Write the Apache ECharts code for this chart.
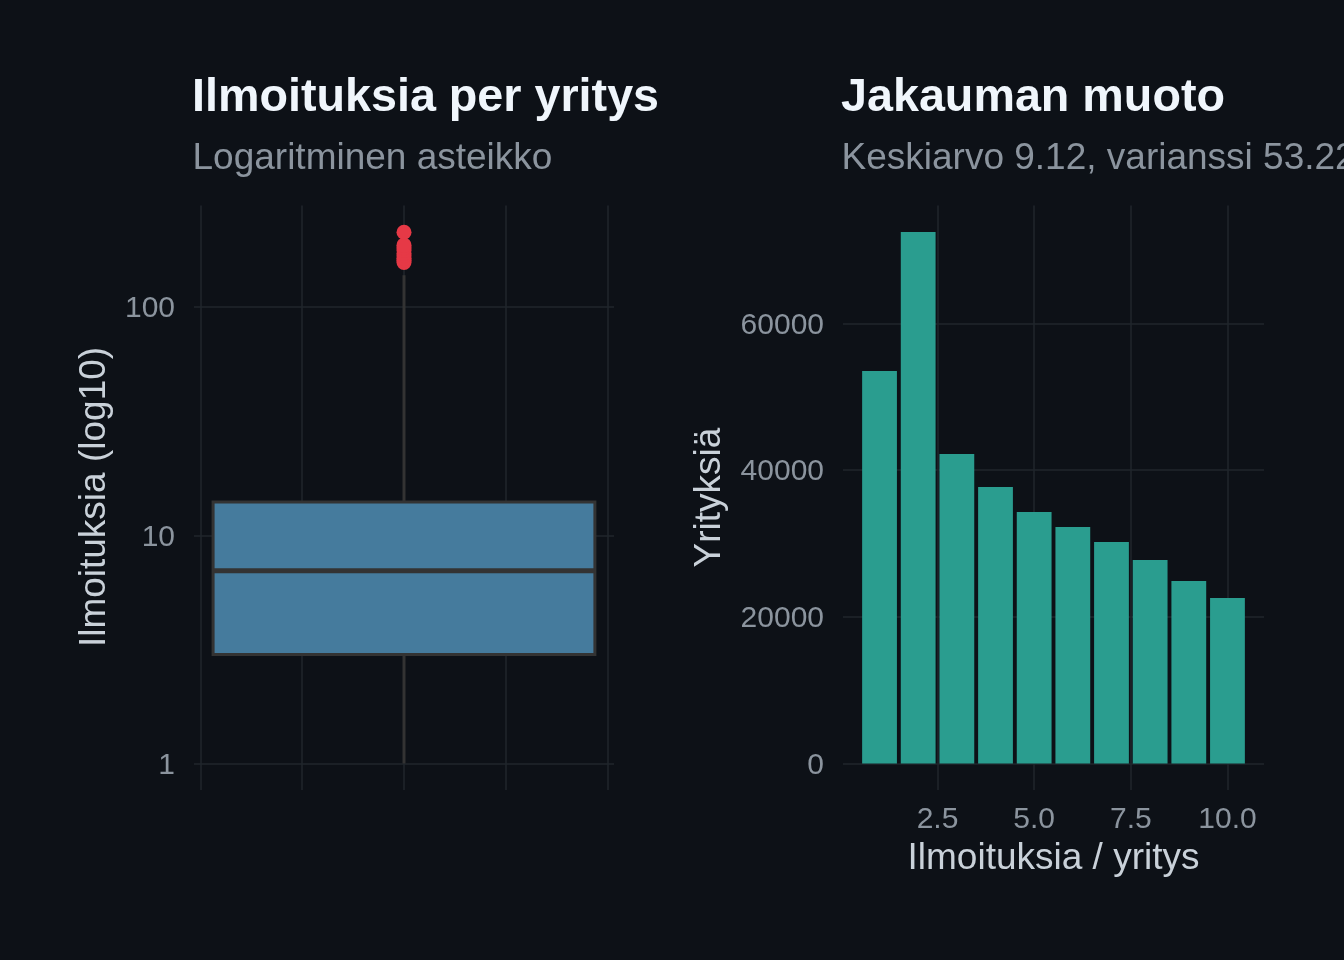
<!DOCTYPE html>
<html><head><meta charset="utf-8">
<script src="https://cdn.jsdelivr.net/npm/echarts@6/dist/echarts.min.js"></script>
<style>html,body{margin:0;padding:0;background:#0d1117;}#c{width:1344px;height:960px;}</style>
</head><body><div id="c"></div>
<script>
// ---- data ----
const boxStats = [1, 3, 7, 14, 138];            // lower whisker, Q1, median, Q3, upper whisker
const outliers = [157, 160, 164, 168, 172, 177, 182, 187, 213];
const logTicks = [1, 10, 100];
const boxXGrid = [-0.4, -0.2, 0, 0.2, 0.4];
const histBins = [1, 2, 3, 4, 5, 6, 7, 8, 9, 10];
const histCounts = [53520, 72480, 42200, 37700, 34280, 32240, 30190, 27740, 24870, 22550];
const histYTicks = [0, 20000, 40000, 60000];
const histXTicks = [2.5, 5, 7.5, 10];

// ---- style ----
const BG = '#0d1117', GRID = '#21262d', TICK = '#8b949e', AXT = '#c9d1d9';
const FONT = '"Liberation Sans", Arial, sans-serif';
const gridML = (data) => ({
  symbol: 'none', silent: true, animation: false, z: 1,
  label: { show: false }, emphasis: { disabled: true },
  lineStyle: { color: GRID, width: 1.5, type: 'solid' },
  data: data
});
const noAxis = { axisLine: { show: false }, axisTick: { show: false }, splitLine: { show: false } };

const chart = echarts.init(document.getElementById('c'), null, { renderer: 'canvas' });
chart.setOption({
  backgroundColor: BG,
  animation: false,
  grid: [
    { left: 194, top: 205.5, width: 420, height: 584.5 },
    { left: 843, top: 205.5, width: 421, height: 584.5 }
  ],
  xAxis: [
    Object.assign({ gridIndex: 0, type: 'value', min: -0.4125, max: 0.4125, axisLabel: { show: false } }, noAxis),
    Object.assign({ gridIndex: 1, type: 'value', min: 0.055, max: 10.945,
      axisLabel: { customValues: histXTicks, formatter: v => Number(v).toFixed(1),
        color: TICK, fontSize: 30, fontFamily: FONT, margin: 15 } }, noAxis)
  ],
  yAxis: [
    Object.assign({ gridIndex: 0, type: 'log', logBase: 10, min: 0.765, max: 279,
      axisLabel: { formatter: v => { const m = logTicks.find(t => Math.abs(t - v) / t < 1e-6); return m ? String(m) : ''; },
        color: TICK, fontSize: 30, fontFamily: FONT, margin: 19, verticalAlign: 'top', lineHeight: 4 } }, noAxis),
    Object.assign({ gridIndex: 1, type: 'value', min: -3624, max: 76104,
      axisLabel: { customValues: histYTicks, formatter: v => String(v),
        color: TICK, fontSize: 30, fontFamily: FONT, margin: 19, verticalAlign: 'top', lineHeight: 4 } }, noAxis)
  ],
  series: [
    { type: 'line', xAxisIndex: 0, yAxisIndex: 0, data: [], z: 1,
      markLine: gridML(logTicks.map(v => ({ yAxis: v })).concat(boxXGrid.map(v => ({ xAxis: v })))) },
    { type: 'custom', xAxisIndex: 0, yAxisIndex: 0, z: 3,
      data: [[0].concat(boxStats)],
      renderItem: (params, api) => {
        const x = api.value(0), hw = 0.375;
        const pMin = api.coord([x, api.value(1)]);
        const pQ1 = api.coord([x, api.value(2)]);
        const pMed = api.coord([x, api.value(3)]);
        const pQ3 = api.coord([x, api.value(4)]);
        const pMax = api.coord([x, api.value(5)]);
        const left = api.coord([x - hw, api.value(3)])[0];
        const right = api.coord([x + hw, api.value(3)])[0];
        const st = { stroke: '#333333', lineWidth: 3 };
        return { type: 'group', children: [
          { type: 'line', shape: { x1: pMin[0], y1: pMin[1], x2: pQ1[0], y2: pQ1[1] }, style: st },
          { type: 'line', shape: { x1: pQ3[0], y1: pQ3[1], x2: pMax[0], y2: pMax[1] }, style: st },
          { type: 'rect', shape: { x: left, y: pQ3[1], width: right - left, height: pQ1[1] - pQ3[1] },
            style: { fill: '#457b9d', stroke: '#333333', lineWidth: 3 } },
          { type: 'line', shape: { x1: left, y1: pMed[1], x2: right, y2: pMed[1] }, style: { stroke: '#333333', lineWidth: 5 } }
        ] };
      } },
    { type: 'scatter', xAxisIndex: 0, yAxisIndex: 0, z: 4, symbolSize: 15,
      itemStyle: { color: '#e63946', opacity: 1 },
      data: outliers.map(v => [0, v]) },
    { type: 'line', xAxisIndex: 1, yAxisIndex: 1, data: [], z: 1,
      markLine: gridML(histYTicks.map(v => ({ yAxis: v })).concat(histXTicks.map(v => ({ xAxis: v })))) },
    { type: 'custom', xAxisIndex: 1, yAxisIndex: 1, z: 3,
      data: histBins.map((b, i) => [b, histCounts[i]]),
      renderItem: (params, api) => {
        const x = api.value(0), y = api.value(1), hw = 0.45;
        const tl = api.coord([x - hw, y]);
        const br = api.coord([x + hw, 0]);
        return { type: 'rect', shape: { x: tl[0], y: tl[1], width: br[0] - tl[0], height: br[1] - tl[1] },
          style: { fill: '#2a9d8f' } };
      } }
  ],
  graphic: [
    { type: 'text', x: 192, y: 98.5, style: { text: 'Ilmoituksia per yritys', font: 'bold 46.7px ' + FONT, fill: '#f0f6fc', align: 'left', verticalAlign: 'middle' } },
    { type: 'text', x: 192.5, y: 158.5, style: { text: 'Logaritminen asteikko', font: '37px ' + FONT, fill: TICK, align: 'left', verticalAlign: 'middle' } },
    { type: 'text', x: 841, y: 98.5, style: { text: 'Jakauman muoto', font: 'bold 46.7px ' + FONT, fill: '#f0f6fc', align: 'left', verticalAlign: 'middle' } },
    { type: 'text', x: 841.5, y: 158.5, style: { text: 'Keskiarvo 9.12, varianssi 53.22', font: '37px ' + FONT, fill: TICK, align: 'left', verticalAlign: 'middle' } },
    { type: 'text', x: 95, y: 497, rotation: Math.PI / 2, style: { text: 'Ilmoituksia (log10)', font: '37px ' + FONT, fill: AXT, align: 'center', verticalAlign: 'middle' } },
    { type: 'text', x: 710, y: 497.5, rotation: Math.PI / 2, style: { text: 'Yrityksiä', font: '37px ' + FONT, fill: AXT, align: 'center', verticalAlign: 'middle' } },
    { type: 'text', x: 1053.5, y: 859, style: { text: 'Ilmoituksia / yritys', font: '37px ' + FONT, fill: AXT, align: 'center', verticalAlign: 'middle' } }
  ]
});
</script></body></html>
